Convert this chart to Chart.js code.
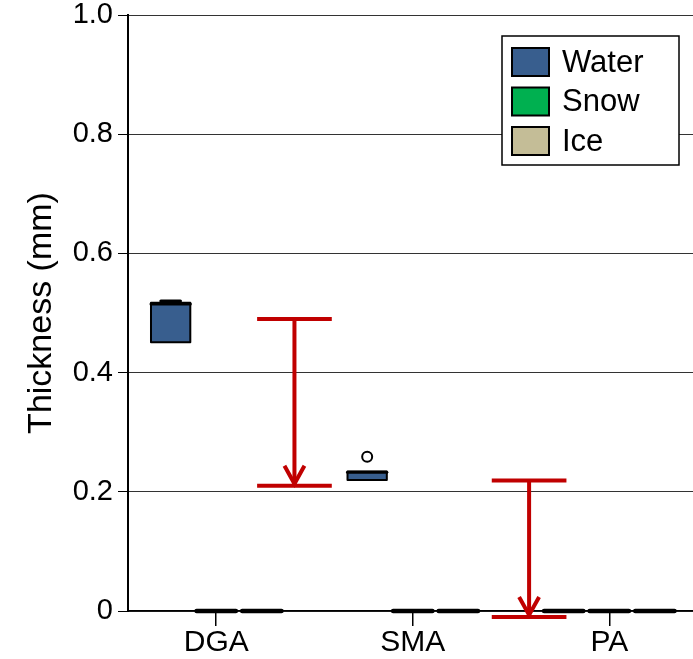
<!DOCTYPE html>
<html>
<head>
<meta charset="utf-8">
<script src="https://cdn.jsdelivr.net/npm/chart.js@4"></script>
<style>
  body { margin: 0; background: #fff; }
  #wrap { width: 693px; height: 659px; }
</style>
</head>
<body>
<div id="wrap"><canvas id="thicknessChart"></canvas></div>
<script>
// Sites (x categories) and series
const groups = ["DGA", "SMA", "PA"];
const seriesNames = ["Water", "Snow", "Ice"];
const seriesColors = ["#385e8e", "#00b050", "#c4bd97"];

// box stats per site: [min, q1, median, q3, max]
const waterStats = [[0.451, 0.451, 0.515, 0.517, 0.520], [0.220, 0.220, 0.233, 0.234, 0.234], [0, 0, 0, 0, 0]];
const snowStats = [[0, 0, 0, 0, 0], [0, 0, 0, 0, 0], [0, 0, 0, 0, 0]];
const iceStats = [[0, 0, 0, 0, 0], [0, 0, 0, 0, 0], [0, 0, 0, 0, 0]];
const waterOutliers = [[], [0.259], []];

// red arrows (decrease), x in category units
const arrowX = [0.398, 1.592];
const arrowFrom = [0.490, 0.219];
const arrowTo = [0.210, -0.010];

const yTicks = [0, 0.2, 0.4, 0.6, 0.8, 1.0];

const FONT = "'Liberation Sans', Arial, sans-serif";
const BOX_W = 0.2;        // box width in category units
const SERIES_OFF = 0.232; // offset between series in a group
const allStats = [waterStats, snowStats, iceStats];

// outlier points go through a normal scatter dataset
const outlierPoints = [];
waterOutliers.forEach((list, g) => list.forEach(v => outlierPoints.push({ x: g - SERIES_OFF, y: v })));

function drawBox(ctx, xs, ys, cx, s, color) {
    const [mn, q1, med, q3, mx] = s;
    const l = xs.getPixelForValue(cx - BOX_W / 2);
    const r = xs.getPixelForValue(cx + BOX_W / 2);
    const mid = xs.getPixelForValue(cx);
    const capL = xs.getPixelForValue(cx - BOX_W / 4);
    const capR = xs.getPixelForValue(cx + BOX_W / 4);
    const yMin = ys.getPixelForValue(mn), yQ1 = ys.getPixelForValue(q1);
    const yMed = ys.getPixelForValue(med), yQ3 = ys.getPixelForValue(q3);
    const yMax = ys.getPixelForValue(mx);
    ctx.save();
    ctx.strokeStyle = "#000";
    ctx.lineCap = "round";
    // whiskers
    ctx.lineWidth = 2;
    [[yQ3, yMax, mx > q3], [yQ1, yMin, mn < q1]].forEach(([a, b, show]) => {
        if (!show) return;
        ctx.beginPath(); ctx.moveTo(mid, a); ctx.lineTo(mid, b); ctx.stroke();
        ctx.lineWidth = 3;
        ctx.beginPath(); ctx.moveTo(capL, b); ctx.lineTo(capR, b); ctx.stroke();
        ctx.lineWidth = 2;
    });
    // box
    ctx.fillStyle = color;
    ctx.fillRect(l, yQ3, r - l, yQ1 - yQ3);
    ctx.lineJoin = "round";
    ctx.strokeRect(l, yQ3, r - l, yQ1 - yQ3);
    // median
    ctx.lineWidth = q3 > q1 ? 3 : 4.5;
    ctx.beginPath(); ctx.moveTo(l, yMed); ctx.lineTo(r, yMed); ctx.stroke();
    ctx.restore();
}

const boxPlugin = {
    id: "boxes",
    beforeDatasetsDraw(chart) {
        const { ctx, scales: { x, y } } = chart;
        allStats.forEach((stats, si) => {
            stats.forEach((s, g) => drawBox(ctx, x, y, g + (si - 1) * SERIES_OFF, s, seriesColors[si]));
        });
    },
    afterDatasetsDraw(chart) {
        const { ctx, scales: { x, y } } = chart;
        // arrows
        ctx.save();
        ctx.strokeStyle = "#c00000";
        ctx.lineWidth = 4;
        arrowX.forEach((ax, i) => {
            const px = x.getPixelForValue(ax);
            const l = x.getPixelForValue(ax - 0.19), r = x.getPixelForValue(ax + 0.19);
            const y0 = y.getPixelForValue(arrowFrom[i]), y1 = y.getPixelForValue(arrowTo[i]);
            ctx.beginPath();
            ctx.moveTo(l, y0); ctx.lineTo(r, y0);
            ctx.moveTo(l, y1); ctx.lineTo(r, y1);
            ctx.moveTo(px, y0); ctx.lineTo(px, y1 - 2);
            ctx.stroke();
            ctx.beginPath();
            ctx.moveTo(px - 10, y1 - 20); ctx.lineTo(px, y1 - 2); ctx.lineTo(px + 10, y1 - 20);
            ctx.stroke();
        });
        ctx.restore();

        // legend box inside the plot
        const lx = 502, ly = 36, lw = 177, lh = 129;
        ctx.save();
        ctx.fillStyle = "#fff";
        ctx.fillRect(lx, ly, lw, lh);
        ctx.strokeStyle = "#000";
        ctx.lineWidth = 1.5;
        ctx.strokeRect(lx, ly, lw, lh);
        ctx.font = "31px " + FONT;
        ctx.textBaseline = "middle";
        seriesNames.forEach((name, i) => {
            const sy = 48 + i * 39.5;
            ctx.fillStyle = seriesColors[i];
            ctx.fillRect(512, sy, 37, 28);
            ctx.lineWidth = 2;
            ctx.strokeRect(512, sy, 37, 28);
            ctx.fillStyle = "#000";
            ctx.fillText(name, 562, sy + 15);
        });
        ctx.restore();
    }
};

new Chart(document.getElementById("thicknessChart"), {
    type: "scatter",
    data: {
        datasets: [{
            label: "Water outliers",
            data: outlierPoints,
            pointRadius: 5,
            pointBorderWidth: 2,
            pointBorderColor: "#000",
            pointBackgroundColor: "#fff"
        }]
    },
    options: {
        responsive: true,
        maintainAspectRatio: false,
        animation: false,
        layout: { autoPadding: false, padding: { top: 15, right: 0, left: 0, bottom: 0 } },
        plugins: { legend: { display: false }, tooltip: { enabled: false } },
        scales: {
            x: {
                type: "linear",
                min: -0.449,
                max: 2.426,
                afterBuildTicks: (scale) => { scale.ticks = groups.map((g, i) => ({ value: i })); },
                afterFit: (scale) => { scale.height = 48; scale.paddingLeft = 0; scale.paddingRight = 0; },
                grid: { drawOnChartArea: false, drawTicks: true, tickLength: 15, tickColor: "#000", lineWidth: 1.5 },
                border: { display: true, color: "#000", width: 1.5 },
                ticks: {
                    padding: 0,
                    color: "#000",
                    font: { family: FONT, size: 30, lineHeight: 1.1 },
                    callback: (v) => groups[v]
                }
            },
            y: {
                min: 0,
                max: 1,
                afterBuildTicks: (scale) => { scale.ticks = yTicks.map(v => ({ value: v })); },
                afterFit: (scale) => { scale.width = 128; scale.paddingTop = 0; scale.paddingBottom = 0; },
                grid: { color: "#333", lineWidth: 1, tickLength: 10, tickColor: "#000" },
                border: { display: true, color: "#000", width: 2 },
                ticks: {
                    padding: 5,
                    color: "#000",
                    font: { family: FONT, size: 29, lineHeight: 1.0 },
                    callback: (v) => v === 0 ? "0" : v.toFixed(1)
                },
                title: {
                    display: true,
                    text: "Thickness (mm)",
                    color: "#000",
                    font: { family: FONT, size: 34, lineHeight: 1.2 },
                    padding: { top: 21, bottom: 0 }
                }
            }
        }
    },
    plugins: [boxPlugin]
});
</script>
</body>
</html>
